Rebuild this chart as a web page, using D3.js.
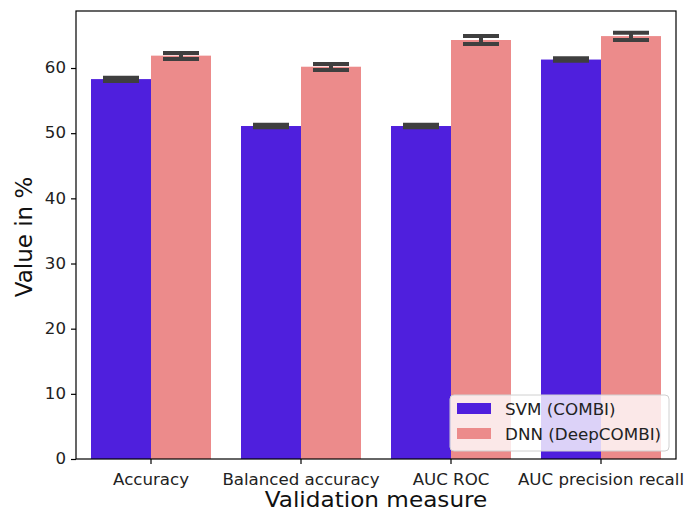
<!DOCTYPE html>
<html>
<head>
<meta charset="utf-8">
<script src="https://cdn.jsdelivr.net/npm/d3@7"></script>
<style>
  html, body { margin: 0; padding: 0; background: #fff; }
  svg { display: block; font-family: "DejaVu Sans", sans-serif; }
</style>
</head>
<body>
<svg id="chart" width="686" height="513"></svg>
<script>
// Validation measures on the x axis
const categories = ["Accuracy", "Balanced accuracy", "AUC ROC", "AUC precision recall"];
const seriesNames = ["SVM (COMBI)", "DNN (DeepCOMBI)"];
// Mean value (%) per measure
const svmValues = [58.3, 51.1, 51.1, 61.3];
const dnnValues = [61.9, 60.2, 64.3, 64.9];
// Confidence interval bounds (%) per measure
const svmLow  = [58.0, 50.9, 50.9, 61.1];
const svmHigh = [58.5, 51.3, 51.3, 61.5];
const dnnLow  = [61.4, 59.7, 63.7, 64.3];
const dnnHigh = [62.3, 60.6, 64.9, 65.4];
const yTicks = [0, 10, 20, 30, 40, 50, 60];

const colors = ["#4f1fdd", "#ec8b8b"];
const series = [
  { name: seriesNames[0], values: svmValues, low: svmLow, high: svmHigh, color: colors[0] },
  { name: seriesNames[1], values: dnnValues, low: dnnLow, high: dnnHigh, color: colors[1] }
];

const svg = d3.select("#chart");
const margin = { left: 76, top: 11, right: 10, bottom: 54 };
const W = 686, H = 513;
const plotW = W - margin.left - margin.right;   // 600
const plotH = H - margin.top - margin.bottom;   // 448
const textStretch = 1.11;                        // slightly wide lettering

const x0 = d3.scaleBand().domain(categories).range([0, plotW]).paddingInner(0.2).paddingOuter(0.1);
const x1 = d3.scaleBand().domain([0, 1]).range([0, x0.bandwidth()]);
const y = d3.scaleLinear().domain([0, 68.75]).range([plotH, 0]);

const g = svg.append("g").attr("transform", `translate(${margin.left},${margin.top})`);

// Bars
series.forEach((s, si) => {
  g.selectAll(null).data(categories).enter().append("rect")
    .attr("x", (c) => x0(c) + x1(si))
    .attr("y", (c, i) => y(s.values[i]))
    .attr("width", x1.bandwidth())
    .attr("height", (c, i) => plotH - y(s.values[i]))
    .attr("fill", s.color);
});

// Error bars with caps
const errColor = "#3f3f3f";
const capW = 36;
series.forEach((s, si) => {
  categories.forEach((c, i) => {
    const cx = x0(c) + x1(si) + x1.bandwidth() / 2;
    const eg = g.append("g").attr("stroke", errColor).attr("stroke-width", 4);
    eg.append("line").attr("x1", cx).attr("x2", cx).attr("y1", y(s.low[i])).attr("y2", y(s.high[i]));
    eg.append("line").attr("x1", cx - capW / 2).attr("x2", cx + capW / 2).attr("y1", y(s.low[i])).attr("y2", y(s.low[i]));
    eg.append("line").attr("x1", cx - capW / 2).attr("x2", cx + capW / 2).attr("y1", y(s.high[i])).attr("y2", y(s.high[i]));
  });
});

// Axes
const yAxis = d3.axisLeft(y).tickValues(yTicks).tickSize(5).tickPadding(5).tickFormat(d3.format("d"));
const xAxis = d3.axisBottom(x0).tickSize(5).tickPadding(10);

const ya = g.append("g").call(yAxis);
const xa = g.append("g").attr("transform", `translate(0,${plotH})`).call(xAxis);
[ya, xa].forEach(a => {
  a.select(".domain").remove();
  a.selectAll("line").attr("stroke", "#000").attr("stroke-width", 1.2);
  a.selectAll("text").attr("fill", "#222").style("font-size", "15px")
    .style("font-family", "'DejaVu Sans', sans-serif");
});
xa.selectAll("text").attr("transform", `scale(${textStretch},1)`);
ya.selectAll("text").attr("x", -10 / textStretch).attr("transform", `scale(${textStretch},1)`);

// Frame
g.append("rect").attr("x", 0).attr("y", 0).attr("width", plotW).attr("height", plotH)
  .attr("fill", "none").attr("stroke", "#000").attr("stroke-width", 1.2);

// Axis titles
svg.append("text")
  .attr("transform", `translate(${margin.left + plotW / 2},507) scale(1.13,1)`)
  .attr("text-anchor", "middle").attr("fill", "#111")
  .style("font-size", "20.5px").text("Validation measure");
svg.append("text")
  .attr("transform", `translate(32,${margin.top + plotH / 2 + 2}) rotate(-90)`)
  .attr("text-anchor", "middle").attr("fill", "#111")
  .style("font-size", "23px").text("Value in %");

// Legend
const lg = svg.append("g").attr("transform", "translate(450,395)");
lg.append("rect").attr("width", 219).attr("height", 56).attr("rx", 4)
  .attr("fill", "#fff").attr("fill-opacity", 0.8).attr("stroke", "#d0d0d0").attr("stroke-width", 1);
series.forEach((s, si) => {
  const row = lg.append("g").attr("transform", `translate(7,${8 + si * 25})`);
  row.append("rect").attr("width", 34).attr("height", 11).attr("fill", s.color);
  row.append("text").attr("transform", "translate(48,11.5) scale(1.08,1)").attr("fill", "#222")
    .style("font-size", "15.5px").text(s.name);
});
</script>
</body>
</html>
